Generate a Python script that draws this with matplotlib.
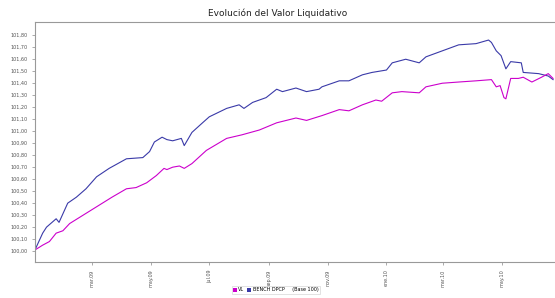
import matplotlib
matplotlib.use("Agg")
import matplotlib.pyplot as plt
import matplotlib.dates as mdates
from matplotlib.patches import Patch
import pandas as pd

# VL (valor liquidativo, base 100)
vl_dates = ["2009-01-01", "2009-01-09", "2009-01-16", "2009-01-23", "2009-01-30",
            "2009-02-06", "2009-02-16", "2009-03-06", "2009-03-22", "2009-04-06",
            "2009-04-16", "2009-04-27", "2009-05-07", "2009-05-15", "2009-05-18",
            "2009-05-24", "2009-05-31", "2009-06-05", "2009-06-13", "2009-06-28",
            "2009-07-19", "2009-08-04", "2009-08-22", "2009-09-09", "2009-09-29",
            "2009-10-10", "2009-10-26", "2009-11-13", "2009-11-23", "2009-12-07",
            "2009-12-21", "2009-12-27", "2010-01-07", "2010-01-17", "2010-02-04",
            "2010-02-11", "2010-02-28", "2010-03-17", "2010-04-04", "2010-04-20",
            "2010-04-25", "2010-04-29", "2010-05-03", "2010-05-05", "2010-05-10",
            "2010-05-18", "2010-05-23", "2010-06-01", "2010-06-11", "2010-06-18",
            "2010-06-23"]
vl_values = [100.01, 100.05, 100.08, 100.15, 100.17,
             100.23, 100.28, 100.37, 100.45, 100.52,
             100.53, 100.57, 100.63, 100.69, 100.68,
             100.70, 100.71, 100.69, 100.73, 100.84,
             100.94, 100.97, 101.01, 101.07, 101.11,
             101.09, 101.13, 101.18, 101.17, 101.22,
             101.26, 101.25, 101.32, 101.33, 101.32,
             101.37, 101.40, 101.41, 101.42, 101.43,
             101.37, 101.38, 101.28, 101.27, 101.44,
             101.44, 101.45, 101.41, 101.45, 101.48,
             101.44]

# benchmark DPCP (base 100)
bench_dates = ["2009-01-01", "2009-01-09", "2009-01-13", "2009-01-23", "2009-01-26",
               "2009-02-04", "2009-02-13", "2009-02-23", "2009-03-06", "2009-03-19",
               "2009-04-06", "2009-04-23", "2009-04-30", "2009-05-05", "2009-05-13",
               "2009-05-18", "2009-05-24", "2009-06-02", "2009-06-05", "2009-06-13",
               "2009-06-24", "2009-07-01", "2009-07-19", "2009-08-01", "2009-08-06",
               "2009-08-15", "2009-08-29", "2009-09-09", "2009-09-15", "2009-09-29",
               "2009-10-10", "2009-10-23", "2009-10-26", "2009-11-13", "2009-11-23",
               "2009-12-07", "2009-12-17", "2010-01-01", "2010-01-07", "2010-01-21",
               "2010-02-04", "2010-02-11", "2010-02-28", "2010-03-17", "2010-04-04",
               "2010-04-17", "2010-04-20", "2010-04-25", "2010-04-30", "2010-05-05",
               "2010-05-10", "2010-05-21", "2010-05-23", "2010-06-08", "2010-06-18",
               "2010-06-23"]
bench_values = [100.01, 100.15, 100.20, 100.27, 100.24,
                100.40, 100.45, 100.52, 100.62, 100.69,
                100.77, 100.78, 100.83, 100.91, 100.95,
                100.93, 100.92, 100.94, 100.88, 100.99,
                101.07, 101.12, 101.19, 101.22, 101.19,
                101.24, 101.28, 101.35, 101.33, 101.36,
                101.33, 101.35, 101.37, 101.42, 101.42,
                101.47, 101.49, 101.51, 101.57, 101.60,
                101.57, 101.62, 101.67, 101.72, 101.73,
                101.76, 101.74, 101.67, 101.63, 101.52,
                101.58, 101.57, 101.49, 101.48, 101.46,
                101.43]

tick_dates = ["2009-03-01", "2009-05-01", "2009-07-01", "2009-09-01",
              "2009-11-01", "2010-01-01", "2010-03-01", "2010-05-01"]
tick_labels = ["mar.09", "may.09", "jul.09", "sep.09",
               "nov.09", "ene.10", "mar.10", "may.10"]
y_ticks = [100.0 + i * 0.1 for i in range(19)]

vl_color = "#cc00cc"
bench_color = "#3a3aa8"
grey = "#888888"

fig = plt.figure(figsize=(5.55, 2.98), dpi=100)
ax = fig.add_axes([0.063, 0.121, 0.937, 0.805])

ax.plot(pd.to_datetime(bench_dates), bench_values, color=bench_color, lw=0.8)
ax.plot(pd.to_datetime(vl_dates), vl_values, color=vl_color, lw=0.8)

ax.set_xlim(pd.Timestamp("2009-01-01"), pd.Timestamp("2010-06-25"))
ax.set_ylim(99.91, 101.91)

ax.set_yticks(y_ticks)
ax.set_yticklabels([f"{v:.2f}".replace(".", ",") for v in y_ticks])
ax.set_xticks(pd.to_datetime(tick_dates))
ax.set_xticklabels(tick_labels, rotation=90)

ax.tick_params(axis="both", labelsize=3.5, colors=grey, length=2, width=0.5,
               labelcolor="#555555")
for sp in ax.spines.values():
    sp.set_color("#999999")
    sp.set_linewidth(0.8)
ax.spines["right"].set_visible(False)

fig.text(0.5, 0.955, "Evolución del Valor Liquidativo", ha="center",
         va="center", fontsize=6.5, color="#222222")

handles = [Patch(facecolor=vl_color, edgecolor="none"),
           Patch(facecolor=bench_color, edgecolor="none")]
leg = fig.legend(handles, ["VL", "BENCH DPCP     (Base 100)"], loc="center",
                 bbox_to_anchor=(0.497, 0.027), ncol=2, fontsize=3.5,
                 frameon=True, handlelength=0.8, handleheight=0.8,
                 handletextpad=0.3, columnspacing=0.6, borderpad=0.3,
                 fancybox=False)
leg.get_frame().set_edgecolor("#cccccc")
leg.get_frame().set_linewidth(0.5)

fig.savefig("out.png", dpi=100)
